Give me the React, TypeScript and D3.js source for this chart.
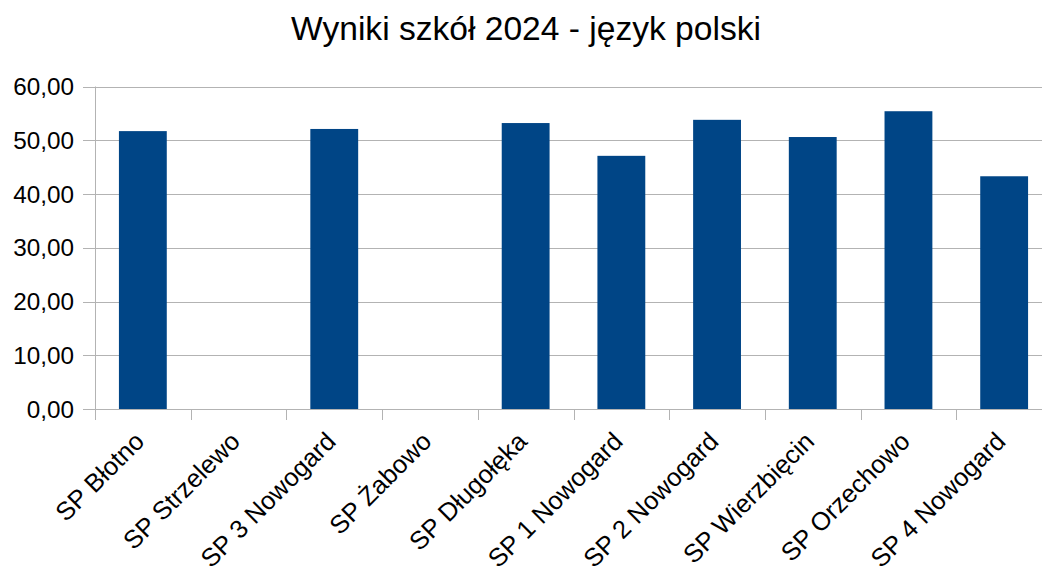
import * as d3 from "d3";
import React, { useEffect, useRef } from "react";

const schools = [
  "SP Błotno",
  "SP Strzelewo",
  "SP 3 Nowogard",
  "SP Żabowo",
  "SP Długołęka",
  "SP 1 Nowogard",
  "SP 2 Nowogard",
  "SP Wierzbięcin",
  "SP Orzechowo",
  "SP 4 Nowogard",
];
const scores = [51.7, 0, 52.1, 0, 53.2, 47.1, 53.8, 50.6, 55.4, 43.3];
const yTicks = [0, 10, 20, 30, 40, 50, 60];

export default function App() {
  const ref = useRef<SVGSVGElement>(null);

  useEffect(() => {
    const svg = d3.select(ref.current);
    svg.selectAll("*").remove();
    const W = 1042,
      H = 569;
    // the plot runs a little past the right edge of the picture
    const m = { left: 95, right: -10, top: 86.5, bottom: 160 };
    const font = "Liberation Sans, Arial, sans-serif";
    const fmt = (v: number) => v.toFixed(2).replace(".", ",");

    const x = d3
      .scaleBand<string>()
      .domain(schools)
      .range([m.left, W - m.right])
      .paddingInner(0.5)
      .paddingOuter(0.25);
    const xb = d3.scaleBand<string>().domain(schools).range([m.left, W - m.right]);
    const y = d3.scaleLinear().domain([0, 60]).range([H - m.bottom, m.top]);

    svg
      .append("text")
      .attr("x", 526)
      .attr("y", 40)
      .attr("text-anchor", "middle")
      .style("font-family", font)
      .style("font-size", "33.6px")
      .text("Wyniki szkół 2024 - język polski");

    const grid = svg.append("g");
    grid
      .selectAll("line")
      .data(yTicks)
      .join("line")
      .attr("x1", m.left - 12)
      .attr("x2", W - m.right)
      .attr("y1", (d) => Math.round(y(d)) + 0.5)
      .attr("y2", (d) => Math.round(y(d)) + 0.5)
      .attr("stroke", "#b3b3b3");

    grid
      .append("line")
      .attr("x1", m.left + 0.5)
      .attr("x2", m.left + 0.5)
      .attr("y1", y(60))
      .attr("y2", y(0) + 11)
      .attr("stroke", "#b3b3b3");

    grid
      .selectAll("line.xt")
      .data(schools)
      .join("line")
      .attr("class", "xt")
      .attr("x1", (d) => Math.round(xb(d)! + xb.bandwidth()) + 0.5)
      .attr("x2", (d) => Math.round(xb(d)! + xb.bandwidth()) + 0.5)
      .attr("y1", y(0))
      .attr("y2", y(0) + 11)
      .attr("stroke", "#b3b3b3");

    svg
      .append("g")
      .selectAll("text")
      .data(yTicks)
      .join("text")
      .attr("x", 74)
      .attr("y", (d) => y(d))
      .attr("dy", "0.35em")
      .attr("text-anchor", "end")
      .style("font-family", font)
      .style("font-size", "24.3px")
      .text((d) => fmt(d));

    svg
      .append("g")
      .selectAll("rect")
      .data(schools)
      .join("rect")
      .attr("x", (d) => x(d)!)
      .attr("width", x.bandwidth())
      .attr("y", (d, i) => y(scores[i]))
      .attr("height", (d, i) => y(0) - y(scores[i]))
      .attr("fill", "#004586");

    svg
      .append("g")
      .selectAll("text")
      .data(schools)
      .join("text")
      .attr("text-anchor", "end")
      .attr("transform", (d) => `translate(${xb(d)! + xb.bandwidth() / 2 + 3},${y(0) + 34}) rotate(-45)`)
      .style("font-family", font)
      .style("font-size", "25.5px")
      .text((d) => d);
  }, []);

  return (
    <svg
      ref={ref}
      width={1042}
      height={569}
      style={{ position: "absolute", left: 0, top: 0, overflow: "hidden" }}
    />
  );
}
